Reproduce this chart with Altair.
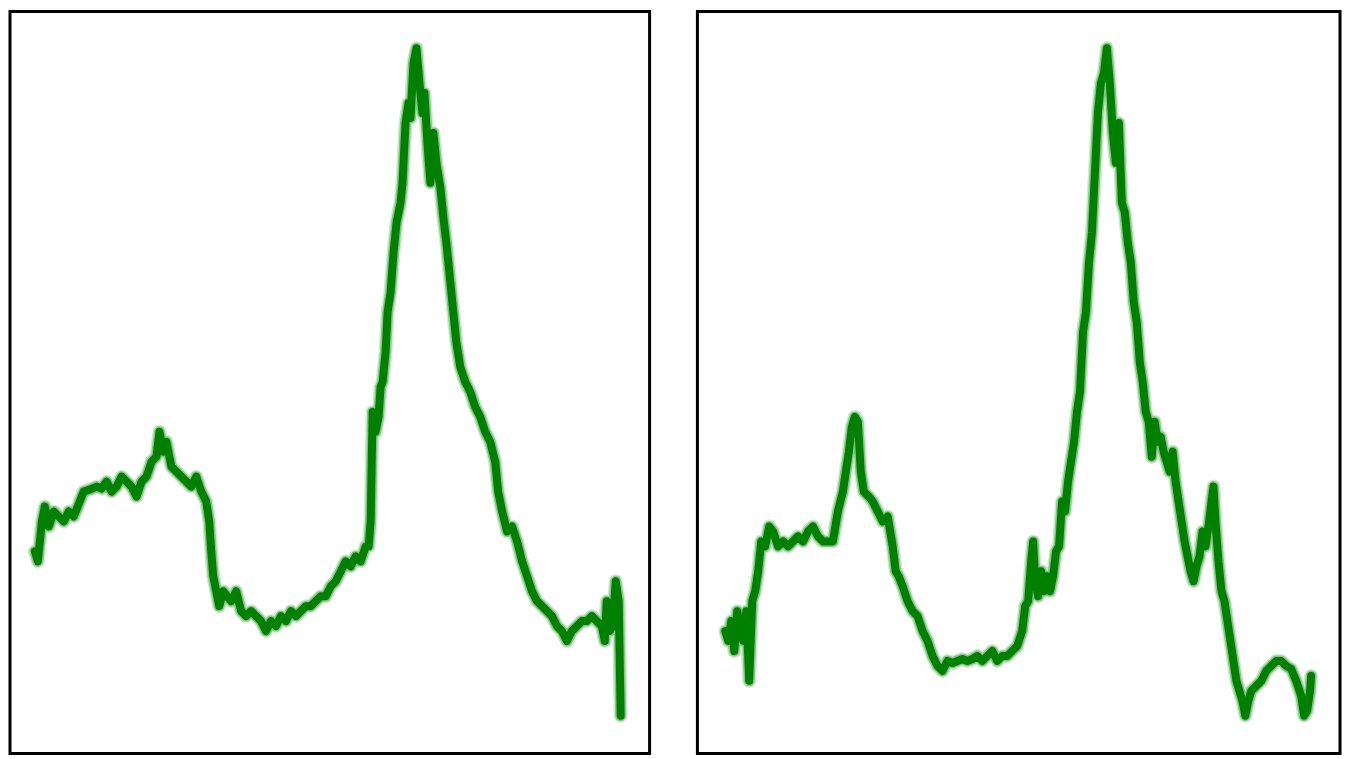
import altair as alt
import pandas as pd

# Left panel series: position along the record and level
left_t = [25, 28, 32, 35, 39, 44, 49, 54, 59, 64, 70, 74, 80, 87, 92, 97, 102, 107, 112, 117,
          122, 127, 132, 137, 142, 147, 150, 154, 157, 162, 167, 172, 177, 182, 187, 192, 197, 200,
          202, 204, 207, 210, 214, 218, 222, 227, 232, 237, 242, 247, 252, 257, 262, 267, 272, 277,
          282, 287, 292, 297, 302, 307, 312, 317, 322, 327, 332, 337, 342, 347, 352, 357, 360, 362,
          364, 367, 370, 372, 374, 377, 379, 382, 385, 388, 392, 394, 397, 400, 402, 405, 408, 411,
          414, 416, 419, 422, 425, 428, 432, 435, 438, 442, 445, 448, 452, 457, 462, 467, 472, 477,
          482, 487, 490, 494, 499, 504, 509, 514, 519, 524, 529, 534, 539, 544, 549, 554, 559, 564,
          569, 574, 579, 584, 589, 594, 597, 599, 602, 605, 608, 611, 613]
left_v = [203, 193, 233, 248, 228, 243, 238, 233, 243, 238, 253, 263, 265, 268, 266, 273, 263, 268, 278, 273,
          268, 258, 273, 278, 293, 298, 323, 303, 313, 288, 283, 278, 273, 268, 278, 263, 253, 233,
          203, 178, 163, 148, 163, 158, 153, 163, 143, 138, 143, 138, 133, 123, 133, 128, 138, 133,
          143, 138, 143, 148, 148, 153, 158, 158, 168, 173, 183, 193, 188, 198, 193, 208, 208, 233,
          343, 323, 338, 368, 373, 403, 443, 463, 503, 533, 553, 573, 633, 653, 638, 693, 708, 673,
          643, 663, 613, 573, 623, 593, 568, 538, 513, 473, 443, 413, 388, 373, 363, 348, 338, 323,
          313, 293, 263, 243, 223, 228, 213, 193, 178, 163, 153, 148, 143, 138, 128, 123, 113, 123,
          128, 133, 133, 138, 133, 128, 113, 153, 123, 128, 173, 153, 38]

# Right panel series
right_t = [28, 31, 34, 37, 40, 43, 46, 49, 52, 55, 58, 61, 64, 68, 72, 76, 81, 86, 91, 96,
           101, 106, 111, 116, 121, 126, 131, 136, 141, 146, 149, 152, 155, 158, 161, 164, 167, 172,
           176, 181, 186, 191, 196, 199, 202, 206, 211, 216, 221, 226, 231, 236, 241, 246, 251, 256,
           261, 266, 271, 276, 281, 286, 291, 296, 301, 306, 311, 316, 321, 326, 329, 332, 335, 337,
           339, 342, 345, 348, 351, 354, 357, 360, 363, 366, 369, 372, 375, 378, 381, 384, 387, 390,
           393, 396, 399, 402, 405, 408, 411, 414, 417, 420, 423, 426, 429, 432, 435, 438, 441, 444,
           447, 450, 453, 456, 459, 462, 465, 468, 471, 474, 477, 480, 483, 486, 489, 492, 495, 498,
           501, 504, 507, 510, 513, 516, 518, 520, 523, 526, 529, 532, 535, 538, 541, 544, 547, 550,
           553, 556, 561, 566, 571, 576, 581, 586, 591, 596, 601, 606, 609, 612, 615, 616]
right_v = [123, 113, 133, 103, 143, 123, 113, 143, 73, 153, 163, 183, 213, 208, 228, 223, 208, 213, 208, 213,
           218, 213, 223, 228, 218, 213, 213, 213, 243, 263, 283, 303, 328, 338, 333, 283, 263, 258,
           253, 243, 233, 238, 208, 183, 178, 168, 153, 143, 138, 123, 113, 98, 88, 83, 93, 91,
           93, 95, 93, 95, 98, 93, 98, 103, 93, 98, 98, 103, 108, 123, 148, 153, 193, 213,
           173, 158, 183, 163, 178, 163, 178, 203, 208, 253, 243, 273, 293, 313, 343, 363, 423, 443,
           493, 523, 583, 643, 673, 683, 708, 673, 623, 593, 633, 553, 543, 513, 493, 453, 433, 393,
           373, 343, 333, 298, 333, 313, 318, 303, 293, 283, 303, 273, 253, 233, 213, 198, 183, 173,
           188, 198, 223, 208, 228, 253, 268, 233, 193, 163, 153, 133, 113, 93, 73, 63, 53, 38,
           53, 63, 68, 73, 83, 88, 93, 93, 88, 85, 73, 58, 38, 43, 63, 78]

GREEN = "#008000"


def panel(t, v, xdomain, width):
    df = pd.DataFrame({"t": t, "v": v})
    x = alt.X("t:Q", scale=alt.Scale(domain=xdomain), axis=None)
    y = alt.Y("v:Q", scale=alt.Scale(domain=[0, 745]), axis=None)
    halo = alt.Chart(df).mark_line(color=GREEN, strokeWidth=14, opacity=0.18,
                                   strokeCap="round", strokeJoin="round").encode(x=x, y=y)
    mid = alt.Chart(df).mark_line(color=GREEN, strokeWidth=11, opacity=0.35,
                                  strokeCap="round", strokeJoin="round").encode(x=x, y=y)
    main = alt.Chart(df).mark_line(color=GREEN, strokeWidth=8,
                                   strokeCap="round", strokeJoin="round").encode(x=x, y=y)
    return alt.layer(halo, mid, main).properties(width=width, height=745)


chart = alt.hconcat(
    panel(left_t, left_v, [0, 642], 642),
    panel(right_t, right_v, [0, 645], 645),
    spacing=44,
).properties(padding=0).configure(background="white").configure_view(stroke="black", strokeWidth=3)

chart.save("out.html", embed_options={"renderer": "svg", "actions": False})
